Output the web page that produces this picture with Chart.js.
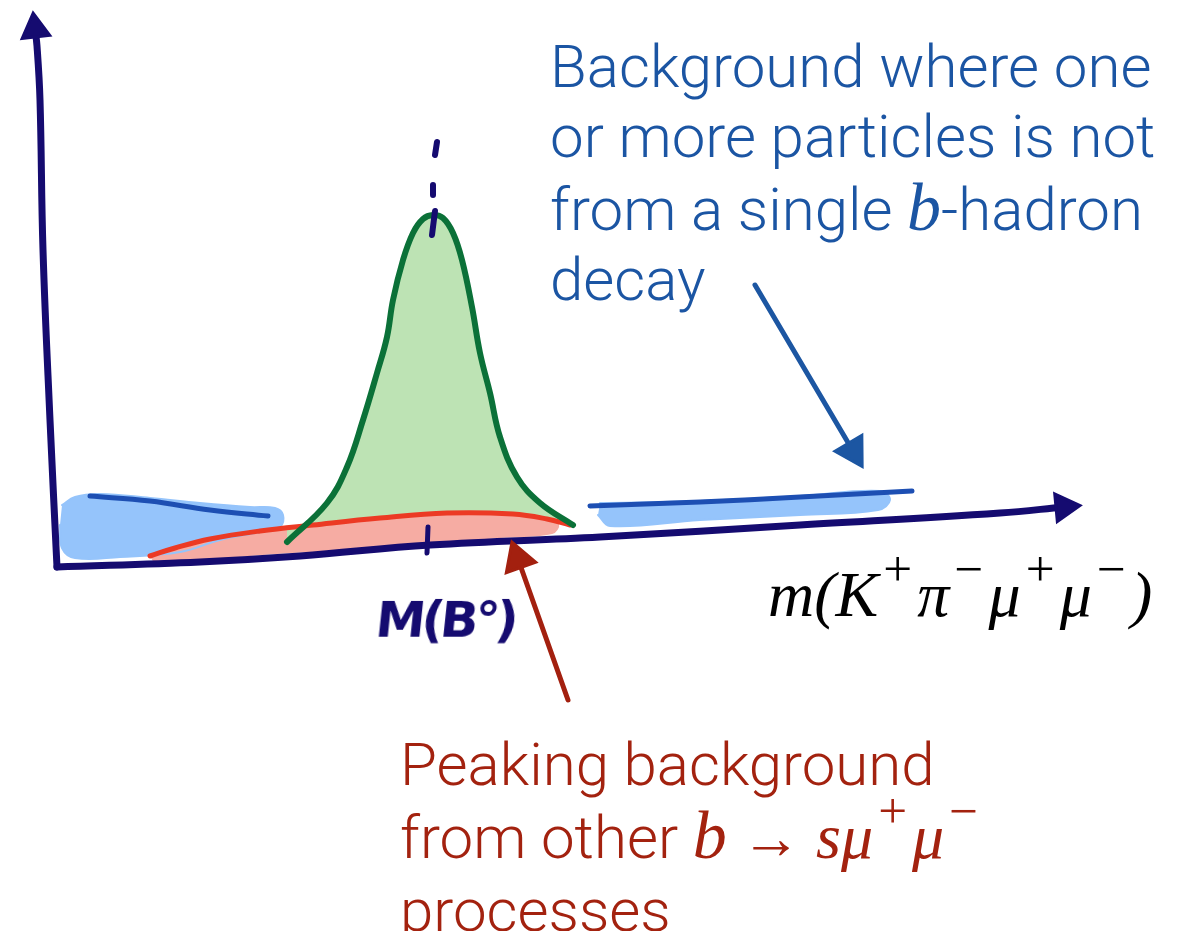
<!DOCTYPE html>
<html>
<head>
<meta charset="utf-8">
<title>Peaking background sketch</title>
<script src="https://cdn.jsdelivr.net/npm/chart.js@4.4.1/dist/chart.umd.min.js"></script>
<style>
  body { margin: 0; background: #fff; }
  #wrap { position: relative; width: 1190px; height: 931px; overflow: hidden; }
  #sketch { position: absolute; left: 0; top: 0; }
  .note {
    position: absolute;
    font-family: Roboto, "Liberation Sans", sans-serif;
    font-weight: 300;
    font-size: 60px;
    line-height: 70px;
    white-space: nowrap;
  }
  .math { font-family: "Liberation Serif", "DejaVu Serif", serif; font-style: italic; }
  .sup { position: relative; top: -0.58em; font-size: 0.8em; font-style: normal; margin: 0 0.1em; }
</style>
</head>
<body>
<div id="wrap">
  <canvas id="sketch" width="1190" height="931"></canvas>
  <div class="note" style="left:550px; top:32px; color:#1b55a3;">Background where one<br>or more particles is not<br>from a single <span class="math" style="font-size:68px;">b</span>-hadron<br>decay</div>
  <div class="note" style="left:400px; top:730px; color:#a3220f;">Peaking background<br>from other <span class="math" style="font-size:68px;">b</span> → <span class="math" style="font-size:64px;">sμ<span class="sup">+</span>μ<span class="sup">−</span></span><br>processes</div>
  <div class="note math" style="left:768px; top:563px; color:#000; font-weight:400; font-size:64px; line-height:64px;">m(K<span class="sup">+</span>π<span class="sup">−</span>μ<span class="sup">+</span>μ<span class="sup">−</span>)</div>
  <div class="note" style="left:376px; top:588px; color:#150b70; font-family:'DejaVu Sans', sans-serif; font-weight:700; font-size:50px; line-height:64px; letter-spacing:-4px; transform:skewX(-6deg);">M(B°)</div>
</div>
<script>
// all x values in sketch units along the mass axis, y values are heights above the bottom edge

// axes
const yAxisX = [57, 50, 43, 40, 37, 35];
const yAxisY = [364, 511, 681, 831, 885, 902];
const xAxisX = [57, 200, 300, 430, 600, 800, 1000, 1064];
const xAxisY = [364, 369, 375, 386, 394, 406, 418, 424];

// signal peak (green)
const signalX = [287, 327, 347, 363, 377, 387, 393, 403, 413, 423, 433, 443, 453, 462, 472, 480, 490, 500, 517, 540, 573];
const signalY = [389, 428, 464, 511, 558, 594, 631, 671, 698, 712, 716, 713, 698, 671, 624, 578, 538, 494, 454, 428, 406];

// peaking background (red line + salmon band)
const peakingX = [150, 175, 210, 260, 313, 380, 447, 513, 547, 570];
const peakingY = [375, 383, 392, 400, 406, 413, 418, 417, 412, 406];
const peakingBandX = [150, 175, 210, 260, 313, 380, 447, 513, 547, 558, 552, 500, 430, 350, 250, 175, 155];
const peakingBandY = [375, 383, 392, 400, 406, 413, 418, 417, 412, 407, 398, 394, 388, 382, 376, 366, 366];

// combinatorial background (blue)
const combLeftX = [90, 150, 210, 268];
const combLeftY = [435, 430, 421, 415];
const combRightX = [590, 700, 800, 912];
const combRightY = [425, 429, 434, 440];
const combLeftBandX = [62, 75, 100, 150, 200, 250, 275, 283, 280, 260, 220, 180, 120, 75, 62, 60];
const combLeftBandY = [426, 434, 437, 433, 428, 424, 423, 416, 404, 399, 391, 379, 374, 373, 383, 406];
const combRightBandX = [600, 700, 800, 880, 890, 878, 800, 700, 610, 598];
const combRightBandY = [428, 430, 435, 440, 431, 421, 416, 411, 405, 416];

// B0 mass marker and dashed guide
const tickX = [428, 427];
const tickY = [404, 378];
const guideX = [437, 435, 435, 433, 433, 434, 435, 432];
const guideY = [789, 776, null, 746, 736, null, 720, 696];

// annotation arrows
const blueArrowX = [755, 853];
const blueArrowY = [646, 480];
const redArrowX = [568, 518];
const redArrowY = [231, 372];

const navy = "#150b70";

function pts(xs, ys) {
  return xs.map((x, i) => ({ x: x, y: ys[i] }));
}

function stroke(xs, ys, color, width, extra) {
  return Object.assign({
    data: pts(xs, ys),
    borderColor: color,
    borderWidth: width,
    pointRadius: 0,
    fill: false,
    tension: 0.4,
  }, extra || {});
}

function blob(xs, ys, color) {
  return stroke(xs, ys, color, 2, { fill: "shape", backgroundColor: color });
}

// arrow head = rotated triangle on the last point
function arrowHead(color, size) {
  return {
    pointStyle: "triangle",
    pointRadius: (c) => (c.dataIndex === c.dataset.data.length - 1 ? size : 0),
    pointBackgroundColor: color,
    pointBorderColor: color,
    pointBorderWidth: 3,
    pointRotation: (c) => {
      const d = c.dataset.data;
      const i = c.dataIndex;
      if (i < 1) return 0;
      const sx = c.chart.scales.x;
      const sy = c.chart.scales.y;
      const dx = sx.getPixelForValue(d[i].x) - sx.getPixelForValue(d[i - 1].x);
      const dy = sy.getPixelForValue(d[i].y) - sy.getPixelForValue(d[i - 1].y);
      return (Math.atan2(dx, -dy) * 180) / Math.PI;
    },
  };
}

// first dataset is drawn on top
const datasets = [
  stroke(redArrowX, redArrowY, "#a3200f", 5, Object.assign({ tension: 0 }, arrowHead("#a3200f", 18))),
  stroke(blueArrowX, blueArrowY, "#1c56a2", 5, Object.assign({ tension: 0 }, arrowHead("#1c56a2", 18))),
  stroke(guideX, guideY, navy, 6, { tension: 0 }),
  stroke(tickX, tickY, navy, 5, { tension: 0 }),
  stroke(xAxisX, xAxisY, navy, 7, arrowHead(navy, 16)),
  stroke(yAxisX, yAxisY, navy, 7, arrowHead(navy, 16)),
  stroke(signalX, signalY, "#0b7138", 6, { fill: { target: 7 }, backgroundColor: "#bde3b4" }),
  stroke(peakingX, peakingY, "#ec3a24", 5),
  blob(peakingBandX, peakingBandY, "#f6aca3"),
  stroke(combLeftX, combLeftY, "#1d4fb3", 5),
  stroke(combRightX, combRightY, "#1d4fb3", 5),
  blob(combLeftBandX, combLeftBandY, "#95c4fb"),
  blob(combRightBandX, combRightBandY, "#95c4fb"),
];

const chart = new Chart(document.getElementById("sketch"), {
  type: "line",
  data: { datasets: datasets },
  options: {
    responsive: false,
    animation: false,
    layout: { padding: 0, autoPadding: false },
    elements: {
      line: { borderCapStyle: "round", borderJoinStyle: "round" },
    },
    plugins: {
      legend: { display: false },
      tooltip: { enabled: false },
      filler: { drawTime: "beforeDatasetsDraw" },
    },
    scales: {
      x: { type: "linear", min: 0, max: 1190, display: false },
      y: { type: "linear", min: 0, max: 931, display: false },
    },
  },
});
</script>
</body>
</html>
